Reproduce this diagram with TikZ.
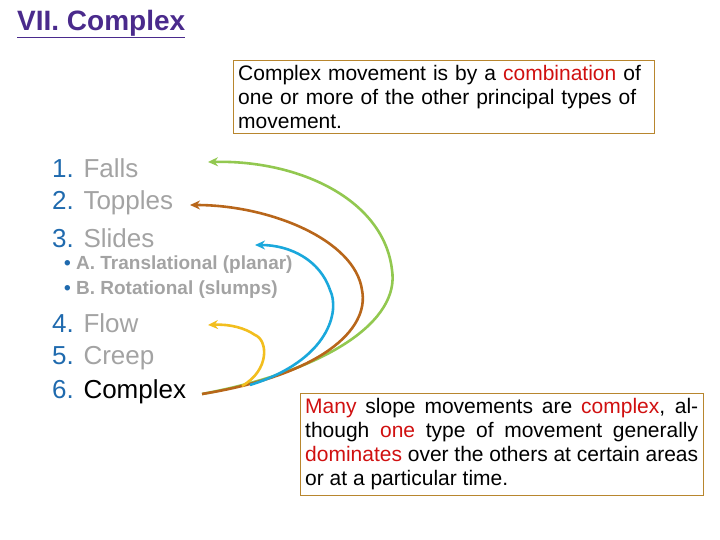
\documentclass[tikz,border=0pt]{standalone}
\usepackage{fontspec}
\setmainfont{Liberation Sans}
\usetikzlibrary{arrows.meta}
\definecolor{numblue}{HTML}{1F6AAE}
\definecolor{itemgrey}{HTML}{A3A3A3}
\definecolor{titlepurple}{HTML}{4A2A8C}
\definecolor{boxbrown}{HTML}{B8862E}
\definecolor{hired}{HTML}{D01010}
\definecolor{arcgreen}{HTML}{92C850}
\definecolor{arcorange}{HTML}{B8661A}
\definecolor{arcblue}{HTML}{1AA8DC}
\definecolor{arcyellow}{HTML}{F2BE1E}
\tikzset{
  item/.style={anchor=west, inner sep=0pt, font=\fontsize{26}{28}\selectfont, text=itemgrey},
  subitem/.style={anchor=west, inner sep=0pt, font=\fontsize{19}{21}\selectfont\bfseries, text=itemgrey},
  infobox/.style={draw=boxbrown, thin, inner sep=5pt, anchor=north west, font=\fontsize{21}{24}\selectfont},
  arc/.style={line width=2.6pt, -{Stealth[length=10pt,width=9pt]}}
}
\begin{document}
\begin{tikzpicture}[x=1pt,y=-1pt]
        \useasboundingbox (0,0) rectangle (720,540);
        % Title
        \node (title) [anchor=west, inner sep=0pt, text=titlepurple, font=\fontsize{28}{30}\selectfont\bfseries] at (17,24) {\underline{VII. Complex}};

        % Boxes
        \node (top) [infobox, text width=411pt] at (233,60) {Complex movement is by a \textcolor{hired}{combination} of one or more of the other principal types of movement.};
        \node (bottom) [infobox, text width=393pt, align=justify] at (300,393) {\textcolor{hired}{Many} slope movements are \textcolor{hired}{complex}, although \textcolor{hired}{one} type of movement generally \textcolor{hired}{dominates} over the others at certain areas or at a particular time.};

        % List
        \node (falls)   [item] at (52,168) {\textcolor{numblue}{1.} Falls};
        \node (topples) [item] at (52,203) {\textcolor{numblue}{2.} Topples};
        \node (slides)  [item] at (52,238) {\textcolor{numblue}{3.} Slides};
        \node (transl)  [subitem] at (64,265) {\textcolor{numblue}{\textbullet} A. Translational (planar)};
        \node (rotat)   [subitem] at (64,290) {\textcolor{numblue}{\textbullet} B. Rotational (slumps)};
        \node (flow)    [item] at (52,323) {\textcolor{numblue}{4.} Flow};
        \node (creep)   [item] at (52,358) {\textcolor{numblue}{5.} Creep};
        \node (complex) [item, text=black] at (52,392) {\textcolor{numblue}{6.} Complex};

        % Arcs from Complex
        \coordinate (src) at (202,394);
        \draw[arc, arcgreen]  (src) .. controls (330,370) and (400,320) .. (392,270) .. controls (384,200) and (300,160) .. (208,162);
        \draw[arc, arcorange] (src) .. controls (320,375) and (370,330) .. (362,290) .. controls (355,240) and (270,205) .. (190,205);
        \draw[arc, arcblue]   (250,385) .. controls (330,360) and (340,310) .. (330,290) .. controls (320,260) and (290,245) .. (255,245);
        \draw[arc, arcyellow] (242,386) .. controls (270,370) and (268,340) .. (255,335) .. controls (245,328) and (230,324) .. (208,325);
\end{tikzpicture}
\end{document}
